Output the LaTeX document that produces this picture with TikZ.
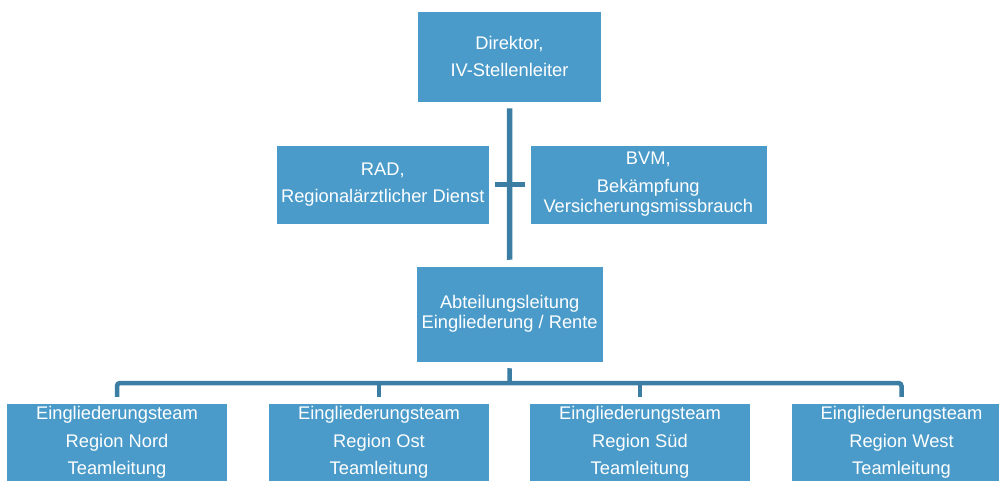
\documentclass[tikz,border=0pt]{standalone}
\usepackage{fontspec}
\setmainfont{Liberation Sans}
\definecolor{boxblue}{RGB}{74,155,202}
\definecolor{lineblue}{RGB}{59,125,163}

\tikzset{
	orgbox/.style={rectangle, fill=boxblue, draw=white, line width=0.5pt, text=white, align=center, inner sep=0pt, font=\fontsize{18.3}{20.5}\selectfont},
	orgline/.style={draw=lineblue, line width=5pt}
}

\begin{document}
\begin{tikzpicture}[x=1pt, y=-1pt]
	\clip (0,0) rectangle (999,481);
	\useasboundingbox (0,0) rectangle (999,481);

	\node[orgbox, minimum width=184, minimum height=91] (dir) at (509.5,56.7) {Direktor,\\[7pt]IV-Stellenleiter};
	\node[orgbox, minimum width=213, minimum height=79] (rad) at (382.8,184.5) {RAD,\\[7pt]Regionalärztlicher Dienst};
	\node[orgbox, minimum width=237, minimum height=79] (bvm) at (648.3,184.5) {BVM,\\[7pt]Bekämpfung\\Versicherungsmissbrauch};
	\node[orgbox, minimum width=187, minimum height=96] (abt) at (509.7,314) {Abteilungsleitung\\Eingliederung / Rente};

	\node[orgbox, minimum width=221, minimum height=79] (nord) at (117,442.5) {Eingliederungsteam\\[7pt]Region Nord\\[7pt]Teamleitung};
	\node[orgbox, minimum width=221, minimum height=79] (ost) at (379,442.5) {Eingliederungsteam\\[7pt]Region Ost\\[7pt]Teamleitung};
	\node[orgbox, minimum width=221, minimum height=79] (sued) at (640,442.5) {Eingliederungsteam\\[7pt]Region Süd\\[7pt]Teamleitung};
	\node[orgbox, minimum width=221, minimum height=79] (west) at (901.5,442.5) {Eingliederungsteam\\[7pt]Region West\\[7pt]Teamleitung};

	\coordinate (bar) at (509.5,383);

	\draw[orgline, line width=5.5pt] ([yshift=-6pt]dir.south) -- ([yshift=6pt]abt.north);
	\draw[orgline] ([xshift=5pt]rad.east) -- ([xshift=-5pt]bvm.west);

	\draw[orgline, line width=4.5pt] ([yshift=-6pt]abt.south) -- (bar);
	\draw[orgline, line width=4.5pt, rounded corners=3pt] ([yshift=6pt]nord.north) |- (bar) -| ([yshift=6pt]west.north);
	\draw[orgline, line width=4.5pt] ([yshift=6pt]ost.north) -- (ost.north |- bar);
	\draw[orgline, line width=4.5pt] ([yshift=6pt]sued.north) -- (sued.north |- bar);
\end{tikzpicture}
\end{document}
